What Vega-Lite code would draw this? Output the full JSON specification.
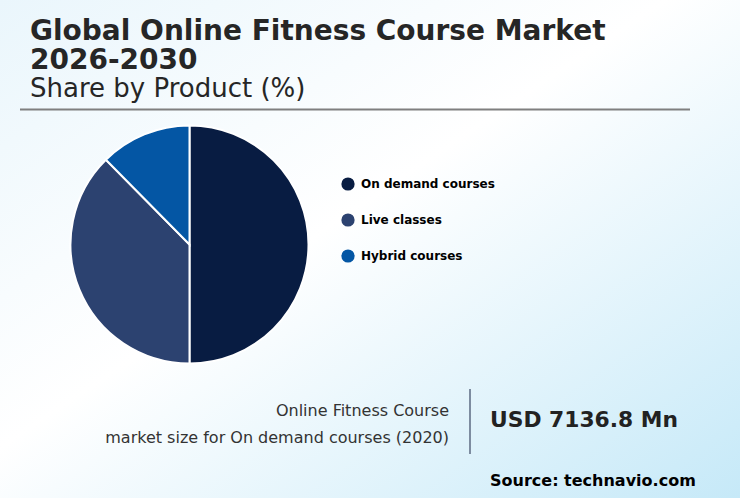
{
  "$schema": "https://vega.github.io/schema/vega-lite/v6.json",
  "width": 740,
  "height": 498,
  "padding": 0,
  "autosize": "none",
  "title": {
    "text": ["Global Online Fitness Course Market", "2026-2030"],
    "subtitle": "Share by Product (%)",
    "anchor": "start",
    "frame": "group",
    "dx": 30,
    "dy": 106
  },
  "layer": [
    {
      "data": {"values": [{}]},
      "mark": {
        "type": "rect",
        "color": {
          "gradient": "linear",
          "x1": 0, "y1": 0, "x2": 1, "y2": 1,
          "stops": [
            {"offset": 0, "color": "#eaf6fc"},
            {"offset": 0.45, "color": "#ffffff"},
            {"offset": 1, "color": "#c6e9f8"}
          ]
        }
      },
      "encoding": {
        "x": {"value": 0},
        "x2": {"value": 740},
        "y": {"value": 0},
        "y2": {"value": 498}
      }
    },
    {
      "data": {"values": [{}]},
      "mark": {"type": "rule", "color": "#7f7f7f", "strokeWidth": 2},
      "encoding": {
        "x": {"value": 20},
        "x2": {"value": 690},
        "y": {"value": 109.5}
      }
    },
    {
      "data": {
        "values": [
          {"product": "On demand courses", "share": 50.0, "rank": 1},
          {"product": "Live classes", "share": 37.6, "rank": 2},
          {"product": "Hybrid courses", "share": 12.4, "rank": 3}
        ]
      },
      "mark": {"type": "arc", "x": 189.5, "y": 244.5, "outerRadius": 119, "stroke": "#ffffff", "strokeWidth": 2},
      "encoding": {
        "theta": {"field": "share", "type": "quantitative", "stack": true},
        "order": {"field": "rank", "type": "quantitative"},
        "color": {
          "field": "product",
          "type": "nominal",
          "scale": {
            "domain": ["On demand courses", "Live classes", "Hybrid courses"],
            "range": ["#081c42", "#2c4270", "#0456a4"]
          },
          "legend": {"title": null, "orient": "none", "legendX": 341, "legendY": 177}
        }
      }
    },
    {
      "data": {"values": [{}]},
      "mark": {
        "type": "text",
        "text": ["Online Fitness Course", "market size for On demand courses (2020)"],
        "x": 449,
        "y": 415.5,
        "align": "right",
        "baseline": "alphabetic",
        "lineHeight": 27,
        "font": "DejaVu Sans",
        "fontSize": 16,
        "color": "#333333"
      },
      "encoding": {}
    },
    {
      "data": {"values": [{}]},
      "mark": {"type": "rule", "color": "#7d8ca0", "strokeWidth": 2},
      "encoding": {
        "x": {"value": 470},
        "y": {"value": 389},
        "y2": {"value": 454}
      }
    },
    {
      "data": {"values": [{}]},
      "mark": {
        "type": "text",
        "text": "USD 7136.8 Mn",
        "x": 490,
        "y": 427,
        "align": "left",
        "baseline": "alphabetic",
        "font": "DejaVu Sans",
        "fontWeight": "bold",
        "fontSize": 21.8,
        "color": "#222222"
      },
      "encoding": {}
    },
    {
      "data": {"values": [{}]},
      "mark": {
        "type": "text",
        "text": "Source: technavio.com",
        "x": 490,
        "y": 486,
        "align": "left",
        "baseline": "alphabetic",
        "font": "DejaVu Sans",
        "fontWeight": "bold",
        "fontSize": 16,
        "color": "#000000"
      },
      "encoding": {}
    }
  ],
  "config": {
    "view": {"stroke": null},
    "title": {
      "font": "DejaVu Sans",
      "fontSize": 28,
      "fontWeight": "bold",
      "color": "#262626",
      "lineHeight": 29.5,
      "subtitleFont": "DejaVu Sans",
      "subtitleFontSize": 26,
      "subtitleColor": "#262626",
      "subtitlePadding": 1
    },
    "legend": {
      "symbolType": "circle",
      "symbolSize": 175,
      "symbolStrokeWidth": 0,
      "labelFont": "DejaVu Sans",
      "labelFontWeight": "bold",
      "labelFontSize": 12,
      "labelColor": "#000000",
      "labelOffset": 6,
      "rowPadding": 22
    }
  }
}
